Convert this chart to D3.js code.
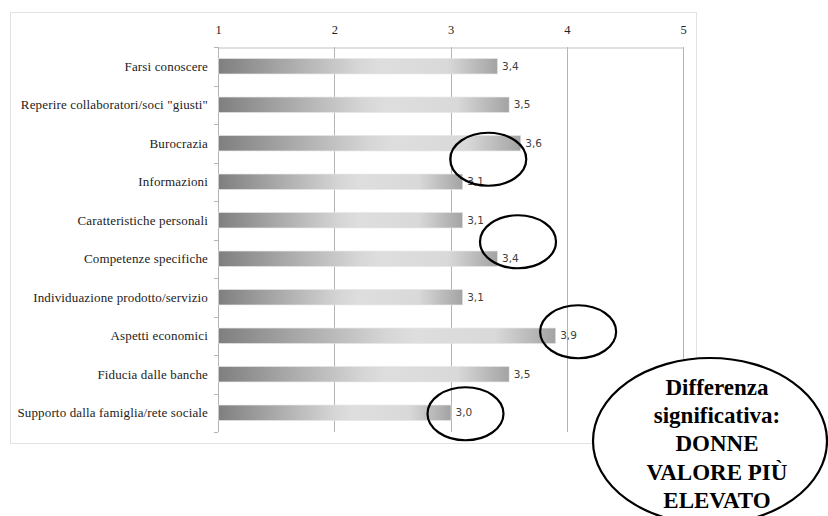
<!DOCTYPE html>
<html><head><meta charset="utf-8">
<script src="https://cdn.jsdelivr.net/npm/d3@7"></script>
<style>body{margin:0;background:#fff}svg{display:block}.serif{font-family:"Liberation Serif","Times New Roman",serif}</style>
</head><body>
<svg id="c" width="828" height="516"></svg>
<script>
const categories = ["Farsi conoscere","Reperire collaboratori/soci \"giusti\"","Burocrazia","Informazioni","Caratteristiche personali","Competenze specifiche","Individuazione prodotto/servizio","Aspetti economici","Fiducia dalle banche","Supporto dalla famiglia/rete sociale"];
const values = [3.4,3.5,3.6,3.1,3.1,3.4,3.1,3.9,3.5,3.0];
const tickValues = [1,2,3,4,5];
const circled = ["Burocrazia","Competenze specifiche","Aspetti economici","Supporto dalla famiglia/rete sociale"];
const circleOffsets = [[-32,16],[21,-17],[23,-4],[15,1]];
const noteLines = ["Differenza","significativa:","DONNE","VALORE PIÙ","ELEVATO"];

const svg = d3.select("#c");
const x = d3.scaleLinear().domain([1,5]).range([218,683]);
const y = d3.scaleBand().domain(categories).range([47,432]).paddingInner(0.6).paddingOuter(0.3);

const defs = svg.append("defs");
const grad = defs.append("linearGradient").attr("id","bg").attr("x1","0").attr("x2","1").attr("y1","0").attr("y2","0");
[[0,"#7f7f7f"],[0.5,"#d6d6d6"],[0.58,"#dedede"],[0.82,"#d9d9d9"],[1,"#a3a3a3"]].forEach(([o,c])=>grad.append("stop").attr("offset",o).attr("stop-color",c));

// outer frame
svg.append("rect").attr("x",10.5).attr("y",12.5).attr("width",686).attr("height",431).attr("fill","none").attr("stroke","#e3e3e3");

// gridlines
svg.append("g").selectAll("line").data(tickValues.slice(1)).join("line")
  .attr("x1",d=>Math.round(x(d))+0.5).attr("x2",d=>Math.round(x(d))+0.5)
  .attr("y1",47).attr("y2",432).attr("stroke","#b4b4b4");

// top axis
const topAxis = svg.append("g").attr("transform","translate(0,47.5)")
  .call(d3.axisTop(x).tickValues(tickValues).tickSize(0).tickPadding(14).tickFormat(d3.format("d")));
topAxis.attr("font-family",null).attr("font-size",null).attr("class","serif");
topAxis.select(".domain").attr("stroke","#c0c0c0");
topAxis.selectAll("text").attr("class","serif").style("font-size","12.5px").attr("fill","#222");

// left axis line and band ticks
const step = y.step();
const y0 = y.range()[0];
svg.append("line").attr("x1",218.5).attr("x2",218.5).attr("y1",47).attr("y2",432).attr("stroke","#b4b4b4");
svg.append("g").selectAll("line").data(d3.range(categories.length+1)).join("line")
  .attr("x1",214).attr("x2",218).attr("y1",d=>Math.round(y0+d*step)+0.5).attr("y2",d=>Math.round(y0+d*step)+0.5)
  .attr("stroke","#b4b4b4");

// category labels
svg.append("g").selectAll("text").data(categories).join("text")
  .attr("class","serif")
  .attr("x",208).attr("y",d=>y(d)+y.bandwidth()/2).attr("dy","0.35em")
  .attr("text-anchor","end").style("font-size","13px").style("letter-spacing","0.15px").attr("fill","#222")
  .text(d=>d);

// bars
const data = categories.map((c,i)=>({c,v:values[i]}));
svg.append("g").selectAll("rect").data(data).join("rect")
  .attr("x",x(1)+0.5).attr("y",d=>y(d.c)).attr("width",d=>x(d.v)-x(1)).attr("height",y.bandwidth())
  .attr("fill","url(#bg)").attr("stroke","#e4e4e4").attr("stroke-width",0.6);

// value labels
svg.append("g").selectAll("text").data(data).join("text")
  .attr("x",d=>x(d.v)+5).attr("y",d=>y(d.c)+y.bandwidth()/2).attr("dy","0.35em")
  .style("font-family","'DejaVu Sans',sans-serif").style("font-size","10.5px").attr("fill","#404040")
  .text(d=>d3.format(".1f")(d.v).replace(".",","));

// annotation ellipses
svg.append("g").selectAll("ellipse").data(circled).join("ellipse")
  .attr("cx",(d,i)=>x(values[categories.indexOf(d)])+circleOffsets[i][0])
  .attr("cy",(d,i)=>y(d)+y.bandwidth()/2+circleOffsets[i][1])
  .attr("rx",38).attr("ry",26.5).attr("fill","none").attr("stroke","#000").attr("stroke-width",2.2);

// big note
svg.append("ellipse").attr("cx",710).attr("cy",441).attr("rx",117).attr("ry",83)
  .attr("fill","#fff").attr("stroke","#000").attr("stroke-width",2.2);
svg.append("g").selectAll("text").data(noteLines).join("text")
  .attr("class","serif")
  .attr("x",717).attr("y",(d,i)=>387+i*28.2).attr("dy","0.35em").attr("text-anchor","middle")
  .style("font-weight","bold").style("font-size","23px").attr("fill","#000")
  .text(d=>d);
</script>
</body></html>
